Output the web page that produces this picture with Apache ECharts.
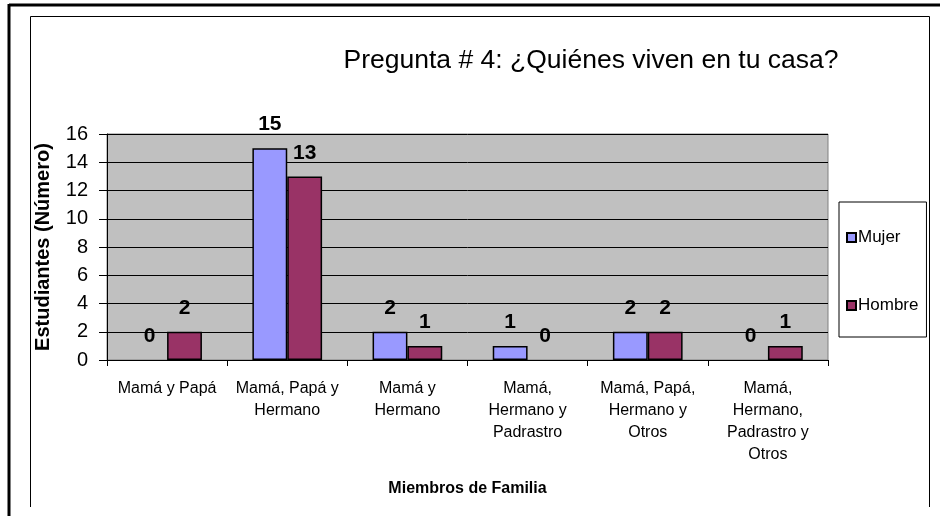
<!DOCTYPE html>
<html>
<head>
<meta charset="utf-8">
<script src="https://cdn.jsdelivr.net/npm/echarts@6/dist/echarts.min.js"></script>
<style>
html,body{margin:0;padding:0;background:#fff;}
#chart{width:940px;height:516px;}
</style>
</head>
<body>
<div id="chart"></div>
<script>
const titleText = 'Pregunta # 4: ¿Quiénes viven en tu casa?';
const categories = [
  'Mamá y Papá',
  'Mamá, Papá y\nHermano',
  'Mamá y\nHermano',
  'Mamá,\nHermano y\nPadrastro',
  'Mamá, Papá,\nHermano y\nOtros',
  'Mamá,\nHermano,\nPadrastro y\nOtros'
];
const seriesNames = ['Mujer', 'Hombre'];
const mujer = [0, 15, 2, 1, 2, 0];
const hombre = [2, 13, 1, 0, 2, 1];
const yTicks = [0, 2, 4, 6, 8, 10, 12, 14, 16];
const yAxisName = 'Estudiantes (Número)';
const xAxisName = 'Miembros de Familia';

const arial = '"Liberation Sans", Arial, sans-serif';

const chart = echarts.init(document.getElementById('chart'));

function makeSeries(name, data, color) {
  return {
    name: name,
    type: 'bar',
    data: data.map(v => v === 0 ? { value: v, itemStyle: { borderWidth: 0 } } : v),
    barGap: '0%',
    barCategoryGap: '42%',
    itemStyle: { color: color, borderColor: '#000', borderWidth: 1.5 },
    label: {
      show: true,
      position: 'top',
      distance: 13,
      color: '#000',
      fontFamily: arial,
      fontWeight: 'bold',
      fontSize: 21
    }
  };
}

chart.setOption({
  animation: false,
  backgroundColor: '#fff',
  title: {
    text: titleText,
    left: 586,
    top: 42,
    textAlign: 'center',
    textStyle: { fontFamily: arial, fontWeight: 'normal', fontSize: 26.5, color: '#000' }
  },
  legend: {
    orient: 'vertical',
    left: 839,
    top: 202,
    padding: [27, 8, 23, 7],
    itemGap: 51,
    itemWidth: 9,
    itemHeight: 9,
    borderColor: '#000',
    borderWidth: 1,
    icon: 'rect',
    textStyle: { fontFamily: arial, fontSize: 17, color: '#000', padding: [0, 0, 0, -3] },
    data: seriesNames
  },
  grid: {
    left: 107, right: 112, top: 134, bottom: 156,
    show: true,
    backgroundColor: '#c0c0c0',
    borderColor: '#808080',
    borderWidth: 1
  },
  xAxis: {
    type: 'category',
    data: categories,
    name: xAxisName,
    nameLocation: 'middle',
    nameGap: 121,
    nameTextStyle: { fontFamily: arial, fontWeight: 'bold', fontSize: 16, color: '#000' },
    axisLine: { lineStyle: { color: '#000', width: 1 } },
    axisTick: { show: true, alignWithLabel: false, length: 6, lineStyle: { color: '#000' } },
    axisLabel: {
      interval: 0,
      margin: 18,
      fontFamily: arial,
      fontSize: 16,
      lineHeight: 22,
      color: '#000'
    }
  },
  yAxis: {
    type: 'value',
    min: yTicks[0],
    max: yTicks[yTicks.length - 1],
    interval: yTicks[1] - yTicks[0],
    name: yAxisName,
    nameLocation: 'middle',
    nameRotate: 90,
    nameGap: 54,
    nameTextStyle: { fontFamily: arial, fontWeight: 'bold', fontSize: 20, color: '#000' },
    axisLine: { show: true, lineStyle: { color: '#000', width: 1 } },
    axisTick: { show: true, length: 8, lineStyle: { color: '#000' } },
    splitLine: { show: true, lineStyle: { color: '#000', width: 1 } },
    axisLabel: { margin: 19, fontFamily: arial, fontSize: 20, color: '#000' }
  },
  series: [
    makeSeries(seriesNames[0], mujer, '#9999ff'),
    makeSeries(seriesNames[1], hombre, '#993366')
  ],
  graphic: [
    { type: 'line', shape: { x1: 9, y1: 5, x2: 940, y2: 5 }, style: { stroke: '#000', lineWidth: 3 } },
    { type: 'line', shape: { x1: 9, y1: 4, x2: 9, y2: 516 }, style: { stroke: '#000', lineWidth: 3 } },
    { type: 'line', shape: { x1: 30.5, y1: 16.5, x2: 929.5, y2: 16.5 }, style: { stroke: '#000', lineWidth: 1 } },
    { type: 'line', shape: { x1: 30.5, y1: 16.5, x2: 30.5, y2: 507 }, style: { stroke: '#000', lineWidth: 1 } },
    { type: 'line', shape: { x1: 929.5, y1: 16.5, x2: 929.5, y2: 507 }, style: { stroke: '#000', lineWidth: 1 } }
  ]
});
</script>
</body>
</html>
